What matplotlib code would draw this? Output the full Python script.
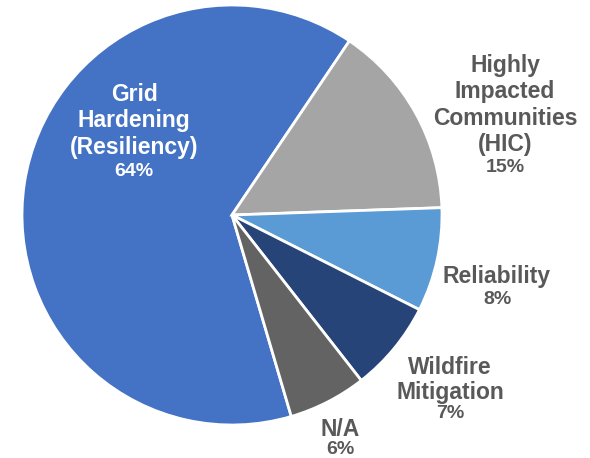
import matplotlib
matplotlib.use("Agg")
import matplotlib.pyplot as plt

categories = ["Grid\nHardening\n(Resiliency)", "Highly\nImpacted\nCommunities\n(HIC)",
              "Reliability", "Wildfire\nMitigation", "N/A"]
values = [64, 15, 8, 7, 6]
pct_labels = ["64%", "15%", "8%", "7%", "6%"]
colors = ["#4472C4", "#A5A5A5", "#5B9BD5", "#264478", "#636363"]

W, H = 590, 458
fig = plt.figure(figsize=(W / 100, H / 100), dpi=100)
ax = fig.add_axes([0, 0, 1, 1])

cx, cy, r = 232, H - 215, 210
ax.pie(values, colors=colors, startangle=-73.6, counterclock=False,
       center=(cx, cy), radius=r, frame=True,
       wedgeprops=dict(edgecolor="white", linewidth=2))
ax.set_xlim(0, W)
ax.set_ylim(0, H)
ax.set_aspect("equal")
ax.axis("off")

fam = ['Liberation Sans', 'DejaVu Sans']
# label positions (pixel coords from top-left): name center x, name center y, pct y, linespacing
name_pos = [(134, 121, 171, 1.2), (505, 105, 167, 1.17), (497, 277, 299, 1.2),
            (450, 380, 414, 1.15), (340, 430, 449, 1.2)]
text_colors = ["white", "#595959", "#595959", "#595959", "#595959"]
for cat, pct, (x, yn, yp, ls), tc in zip(categories, pct_labels, name_pos, text_colors):
    ax.text(x, H - yn, cat, ha="center", va="center", fontsize=16.5, fontweight="bold",
            color=tc, linespacing=ls, family=fam)
    ax.text(x, H - yp, pct, ha="center", va="center", fontsize=14, fontweight="bold",
            color=tc, family=fam)

fig.savefig("out.png", dpi=100)
